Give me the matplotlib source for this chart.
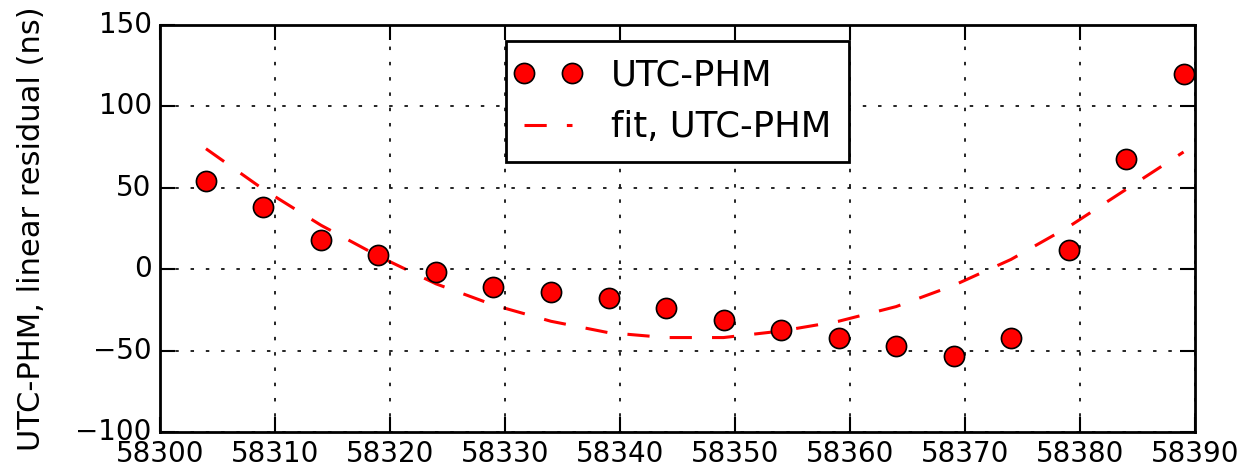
import matplotlib
matplotlib.use("Agg")
import matplotlib.pyplot as plt
from matplotlib.legend_handler import HandlerLine2D

plt.style.use("classic")

mjd = [58304, 58309, 58314, 58319, 58324, 58329, 58334, 58339, 58344,
       58349, 58354, 58359, 58364, 58369, 58374, 58379, 58384, 58389]
residual = [54, 38, 18, 8.5, -1.5, -11, -14, -18, -24,
            -31, -37.5, -42, -47, -53.5, -42, 11.5, 67.5, 120]
fit = [74, 49, 27, 8, -9, -22, -32, -39, -42,
       -42, -38, -32, -23, -10, 6, 26, 49, 72]

xticks = [58300, 58310, 58320, 58330, 58340, 58350, 58360, 58370, 58380, 58390]
yticks = [-100, -50, 0, 50, 100, 150]

fig = plt.figure(figsize=(12.42, 4.70), dpi=100, facecolor="white")
ax = fig.add_axes([0.1288, 0.0809, 0.8334, 0.8659])

pts, = ax.plot(mjd, residual, "o", color="red", markersize=14.5, markeredgecolor="black",
               markeredgewidth=1.2, label="UTC-PHM", zorder=3)
ln, = ax.plot(mjd, fit, "--", color="red", linewidth=2.2, dashes=(16, 14.5),
              label="fit, UTC-PHM", zorder=2)

ax.set_xlim(58300, 58390)
ax.set_ylim(-100, 150)
ax.set_xticks(xticks)
ax.set_yticks(yticks)
ax.ticklabel_format(useOffset=False, style="plain")
ax.tick_params(labelsize=20, length=11, width=1.5, direction="in", pad=6)
for s in ax.spines.values():
    s.set_linewidth(2)
ax.grid(True, color="black", linestyle=(0, (2.5, 8.5)), linewidth=1.2)
ax.set_ylabel("UTC-PHM, linear residual (ns)", fontsize=22, labelpad=21)

leg = ax.legend(loc="upper center", fontsize=25.5, numpoints=2,
                borderaxespad=0.45, borderpad=0.5, handlelength=1.36,
                handletextpad=1.1,
                handler_map={pts: HandlerLine2D(marker_pad=0, numpoints=2),
                             ln: HandlerLine2D(marker_pad=0, numpoints=2)})
leg.get_frame().set_linewidth(2)

fig.savefig("out.png", dpi=100, facecolor="white")
